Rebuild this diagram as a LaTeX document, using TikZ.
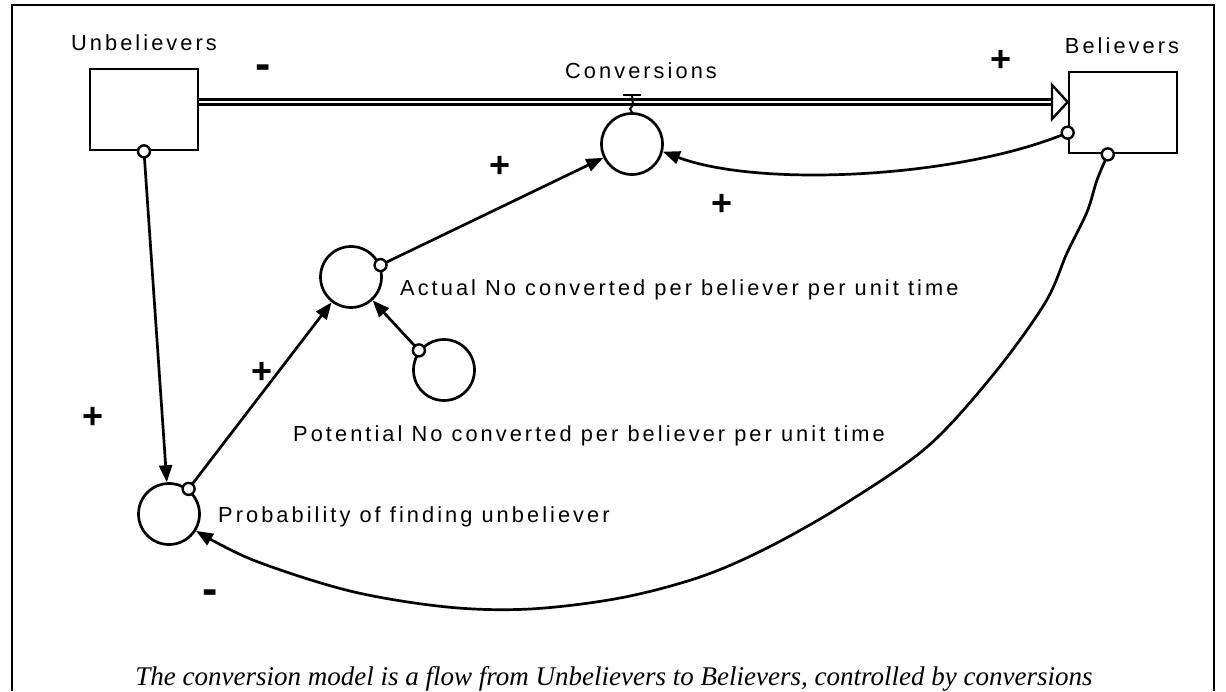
\documentclass[tikz,border=0pt]{standalone}
\usepackage{fontspec}
\setmainfont{Liberation Sans}
\newfontfamily\lblfont[LetterSpace=14]{Liberation Sans}
\newfontfamily\capfont{Liberation Serif}
\usetikzlibrary{arrows.meta}

\def\AuxSize{61pt}
\def\LineW{2.7pt}
\def\LblSize{\fontsize{21.8}{25}\selectfont}

\tikzset{
  stock/.style={draw, line width=\LineW, minimum width=108pt, minimum height=81pt, inner sep=0pt},
  aux/.style={draw, circle, line width=\LineW, minimum size=\AuxSize, inner sep=0pt},
  link/.style={line width=\LineW, -{Triangle[length=17pt,width=13pt]}},
  tailc/.style={line width=2.4pt, fill=white},
  lbl/.style={inner sep=0pt, font=\lblfont\LblSize},
  signp/.style={inner sep=0pt, font=\bfseries\fontsize{36}{36}\selectfont},
  signm/.style={inner sep=0pt, font=\bfseries\fontsize{46}{46}\selectfont},
}

\begin{document}
\begin{tikzpicture}[x=1pt,y=-1pt]
  \useasboundingbox (0,0) rectangle (1226,691);
  % --- Marco ---
  \draw[line width=2pt] (12,691) -- (12,5) -- (1214,5) -- (1214,691);

  % --- Stocks ---
  \node[stock] (unbel) at (144,109.5) {};
  \node[stock] (bel) at (1123,112.5) {};
  \node[lbl, anchor=base] (unbelname) at (144,50) {Unbelievers};
  \node[lbl, anchor=base] (belname) at (1122,53) {Believers};

  % --- Flow ---
  \coordinate (pipeend) at (1052,102);
  \draw[line width=2.6pt, double, double distance=2.2pt] (unbel.east |- pipeend) -- (pipeend);
  \draw[line width=2.4pt, fill=white] (1052,85) -- (bel.west |- pipeend) -- (1052,119) -- cycle;

  % --- Auxiliaries ---
  \node[aux] (conv) at (632,144) {};
  \node[aux] (actual) at (351,277) {};
  \node[aux] (potential) at (444,370) {};
  \node[aux] (prob) at (169,514) {};
  \draw[line width=2.4pt] (623,95) -- (641,95);
  \draw[line width=2pt] (632,95) -- (633,105) -- (630,109) -- (conv.north);
  \node[lbl, anchor=base] (convname) at (641,78) {Conversions};
  \node[lbl, anchor=base west] (actualname) at (400,295) {Actual No converted per believer per unit time};
  \node[lbl, anchor=base west] (potentialname) at (293,441) {Potential No converted per believer per unit time};
  \node[lbl, anchor=base west] (probname) at (218,522) {Probability of finding unbeliever};

  % --- Links ---
  \draw[link] (unbel.south) -- (prob);
  \draw[link] (prob.52) -- (actual);
  \draw[link] (potential.142) -- (actual);
  \draw[link] (actual.22) -- (conv);
  \draw[link] (bel.200) .. controls (960,178) and (760,188) .. (conv.-14);
  \draw[link] plot[smooth, tension=0.55] coordinates {(bel.-110) (1097,180) (1087,212) (1067,253)
    (1045,303) (993,375) (927,447) (843,505) (767,548) (700,577) (620,598) (530,609)
    (447,607) (350,591) (253,560) (prob.-32)};
  \foreach \a in {unbel.south, bel.200, bel.-110, prob.52, potential.142, actual.22}
  {
    \draw[tailc] (\a) circle (6pt);
  }

  % --- Polaridades ---
  \foreach \n/\x/\y in {1/1001/61, 2/500/167, 3/722/205, 4/262/373, 5/93/418}
  {
    \node[signp] (plus\n) at (\x,\y) {+};
  }
  \foreach \n/\x/\y in {1/263/72, 2/210/597}
  {
    \node[signm] (minus\n) at (\x,\y) {-};
  }

  % --- Caption ---
  \node[anchor=base, inner sep=0pt, font=\capfont\itshape\fontsize{27}{31}\selectfont] (caption) at (614,685)
    {The conversion model is a flow from Unbelievers to Believers, controlled by conversions};
\end{tikzpicture}
\end{document}
